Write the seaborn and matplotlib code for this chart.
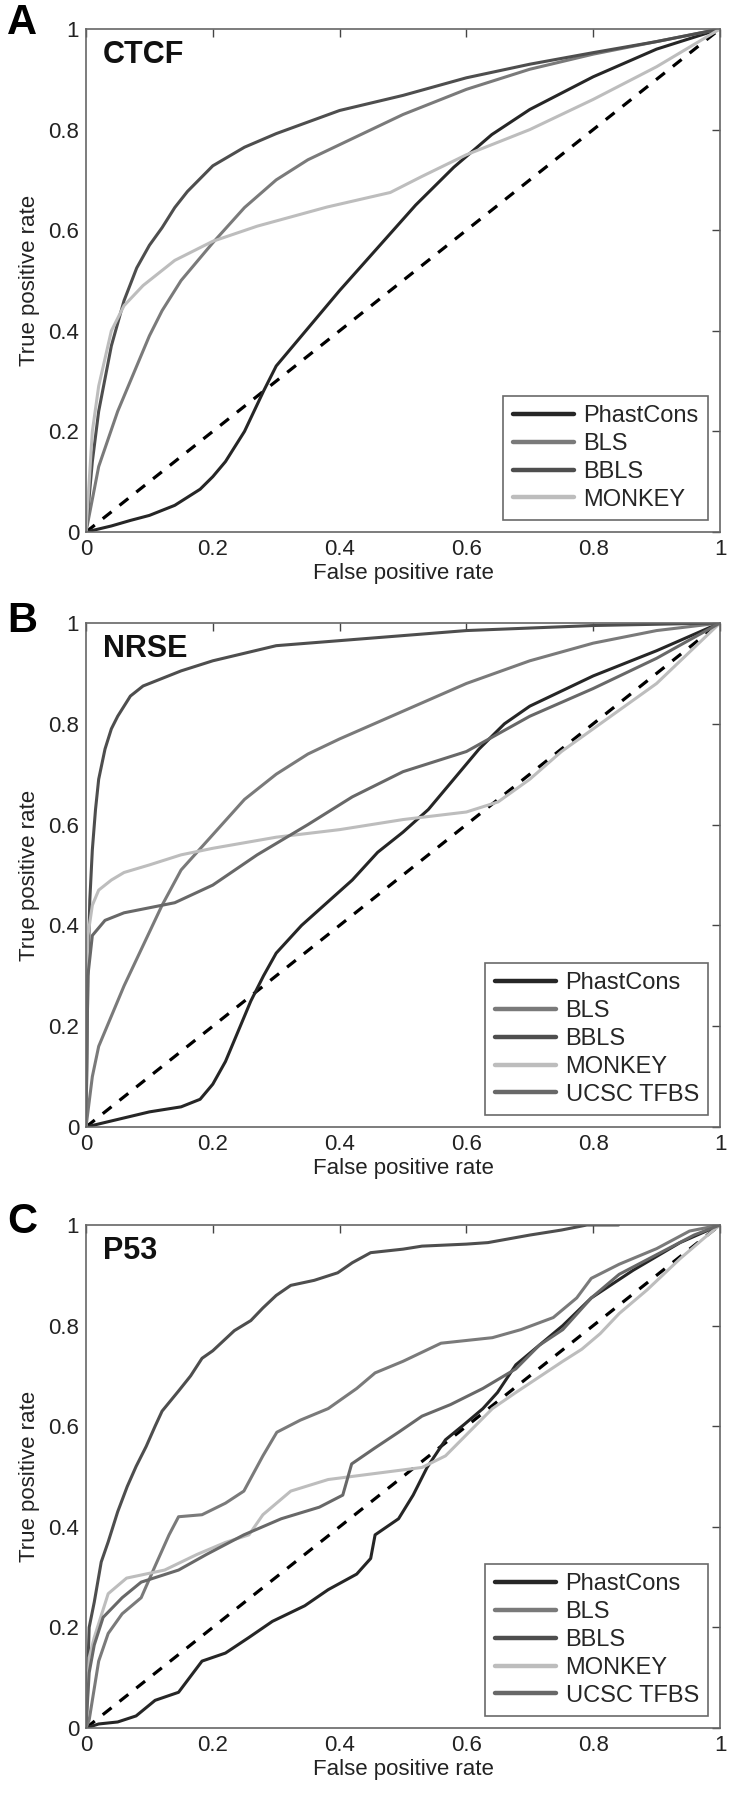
import numpy as np
import pandas as pd
import matplotlib
matplotlib.use("Agg")
import matplotlib.pyplot as plt
import seaborn as sns

sns.set_theme(style="white")
plt.rcParams['font.family'] = ['Liberation Sans', 'DejaVu Sans']

# ---------------- Data ----------------
# Panel A: CTCF
ctcf_phast_x = [0, 0.04, 0.07, 0.1, 0.14, 0.18, 0.2, 0.22, 0.25, 0.28, 0.3, 0.34, 0.4, 0.46, 0.52, 0.58, 0.64, 0.7, 0.8, 0.9, 1.0]
ctcf_phast_y = [0, 0.012, 0.023, 0.033, 0.053, 0.085, 0.11, 0.14, 0.2, 0.28, 0.33, 0.39, 0.48, 0.565, 0.65, 0.725, 0.79, 0.84, 0.905, 0.96, 1.0]
ctcf_bls_x = [0, 0.02, 0.05, 0.08, 0.1, 0.12, 0.15, 0.2, 0.25, 0.3, 0.35, 0.4, 0.5, 0.6, 0.7, 0.8, 0.9, 1.0]
ctcf_bls_y = [0, 0.13, 0.24, 0.33, 0.39, 0.44, 0.50, 0.575, 0.645, 0.70, 0.74, 0.77, 0.83, 0.88, 0.92, 0.95, 0.975, 1.0]
ctcf_bbls_x = [0, 0.01, 0.02, 0.04, 0.06, 0.08, 0.1, 0.12, 0.14, 0.16, 0.2, 0.25, 0.3, 0.35, 0.4, 0.5, 0.6, 0.7, 0.8, 0.9, 1.0]
ctcf_bbls_y = [0, 0.14, 0.24, 0.37, 0.46, 0.525, 0.57, 0.605, 0.645, 0.677, 0.728, 0.765, 0.792, 0.815, 0.838, 0.868, 0.903, 0.93, 0.953, 0.975, 1.0]
ctcf_monkey_x = [0, 0.01, 0.02, 0.04, 0.06, 0.09, 0.14, 0.2, 0.27, 0.38, 0.48, 0.53, 0.6, 0.7, 0.8, 0.9, 1.0]
ctcf_monkey_y = [0, 0.2, 0.29, 0.40, 0.45, 0.49, 0.54, 0.578, 0.608, 0.646, 0.675, 0.707, 0.75, 0.80, 0.86, 0.925, 1.0]

# Panel B: NRSE
nrse_phast_x = [0, 0.05, 0.1, 0.15, 0.18, 0.2, 0.22, 0.24, 0.26, 0.28, 0.3, 0.34, 0.38, 0.42, 0.46, 0.5, 0.54, 0.58, 0.62, 0.66, 0.7, 0.75, 0.8, 0.9, 1.0]
nrse_phast_y = [0, 0.015, 0.03, 0.04, 0.055, 0.085, 0.13, 0.19, 0.25, 0.30, 0.345, 0.40, 0.445, 0.49, 0.545, 0.585, 0.63, 0.69, 0.75, 0.80, 0.835, 0.865, 0.895, 0.945, 1.0]
nrse_bls_x = [0, 0.01, 0.02, 0.04, 0.06, 0.09, 0.12, 0.15, 0.2, 0.25, 0.3, 0.35, 0.4, 0.5, 0.6, 0.7, 0.8, 0.9, 1.0]
nrse_bls_y = [0, 0.10, 0.16, 0.22, 0.28, 0.36, 0.44, 0.51, 0.58, 0.65, 0.70, 0.74, 0.77, 0.825, 0.88, 0.925, 0.96, 0.985, 1.0]
nrse_bbls_x = [0, 0.003, 0.006, 0.01, 0.015, 0.02, 0.03, 0.04, 0.05, 0.07, 0.09, 0.12, 0.15, 0.2, 0.3, 0.4, 0.5, 0.6, 0.8, 1.0]
nrse_bbls_y = [0, 0.30, 0.45, 0.55, 0.63, 0.69, 0.75, 0.79, 0.815, 0.855, 0.875, 0.89, 0.905, 0.925, 0.955, 0.965, 0.975, 0.985, 0.995, 1.0]
nrse_monkey_x = [0, 0.003, 0.01, 0.02, 0.04, 0.06, 0.1, 0.15, 0.2, 0.3, 0.4, 0.5, 0.6, 0.65, 0.7, 0.75, 0.8, 0.9, 1.0]
nrse_monkey_y = [0, 0.38, 0.44, 0.47, 0.49, 0.505, 0.52, 0.54, 0.553, 0.575, 0.59, 0.61, 0.625, 0.645, 0.69, 0.745, 0.79, 0.88, 1.0]
nrse_ucsc_x = [0, 0.003, 0.01, 0.03, 0.06, 0.1, 0.14, 0.2, 0.27, 0.35, 0.42, 0.5, 0.55, 0.6, 0.65, 0.7, 0.8, 0.9, 1.0]
nrse_ucsc_y = [0, 0.30, 0.38, 0.41, 0.425, 0.435, 0.445, 0.48, 0.54, 0.60, 0.655, 0.705, 0.725, 0.745, 0.78, 0.815, 0.87, 0.93, 1.0]

# Panel C: P53
p53_phast_x = [0, 0.02, 0.05, 0.079, 0.109, 0.146, 0.183, 0.22, 0.257, 0.294, 0.345, 0.382, 0.427, 0.449, 0.456, 0.493, 0.516, 0.538, 0.567, 0.597, 0.626, 0.649, 0.678, 0.715, 0.752, 0.797, 0.863, 0.937, 1.0]
p53_phast_y = [0, 0.008, 0.012, 0.024, 0.055, 0.071, 0.133, 0.149, 0.18, 0.212, 0.243, 0.275, 0.306, 0.337, 0.384, 0.416, 0.463, 0.518, 0.573, 0.604, 0.635, 0.667, 0.722, 0.761, 0.80, 0.855, 0.91, 0.965, 1.0]
p53_bls_x = [0, 0.005, 0.02, 0.035, 0.057, 0.087, 0.109, 0.131, 0.146, 0.183, 0.22, 0.249, 0.279, 0.301, 0.338, 0.382, 0.427, 0.456, 0.5, 0.56, 0.641, 0.686, 0.737, 0.774, 0.797, 0.841, 0.9, 0.952, 1.0]
p53_bls_y = [0, 0.016, 0.133, 0.188, 0.227, 0.259, 0.322, 0.384, 0.42, 0.424, 0.447, 0.471, 0.541, 0.588, 0.612, 0.635, 0.675, 0.706, 0.729, 0.765, 0.776, 0.792, 0.816, 0.855, 0.894, 0.922, 0.953, 0.988, 1.0]
p53_bbls_x = [0, 0.005, 0.013, 0.024, 0.035, 0.05, 0.065, 0.079, 0.095, 0.109, 0.12, 0.146, 0.165, 0.183, 0.2, 0.234, 0.26, 0.279, 0.3, 0.323, 0.36, 0.397, 0.42, 0.449, 0.5, 0.53, 0.6, 0.634, 0.7, 0.75, 0.79, 0.84]
p53_bbls_y = [0, 0.20, 0.25, 0.33, 0.37, 0.43, 0.48, 0.52, 0.56, 0.60, 0.63, 0.67, 0.70, 0.735, 0.75, 0.79, 0.81, 0.835, 0.86, 0.88, 0.89, 0.905, 0.925, 0.945, 0.952, 0.958, 0.962, 0.965, 0.98, 0.99, 1.0, 1.0]
p53_monkey_x = [0, 0.005, 0.013, 0.035, 0.064, 0.124, 0.175, 0.22, 0.257, 0.279, 0.323, 0.382, 0.456, 0.53, 0.567, 0.604, 0.641, 0.678, 0.715, 0.752, 0.782, 0.811, 0.841, 0.885, 0.937, 0.974, 1.0]
p53_monkey_y = [0, 0.14, 0.18, 0.267, 0.298, 0.314, 0.345, 0.369, 0.384, 0.424, 0.471, 0.494, 0.506, 0.518, 0.541, 0.588, 0.635, 0.667, 0.698, 0.729, 0.753, 0.784, 0.824, 0.871, 0.933, 0.973, 1.0]
p53_ucsc_x = [0, 0.005, 0.013, 0.027, 0.057, 0.087, 0.146, 0.19, 0.249, 0.308, 0.368, 0.405, 0.419, 0.456, 0.493, 0.53, 0.575, 0.626, 0.678, 0.715, 0.752, 0.797, 0.841, 0.9, 0.959, 1.0]
p53_ucsc_y = [0, 0.11, 0.165, 0.22, 0.259, 0.29, 0.314, 0.345, 0.384, 0.416, 0.439, 0.463, 0.525, 0.557, 0.588, 0.62, 0.643, 0.675, 0.714, 0.761, 0.792, 0.855, 0.902, 0.941, 0.98, 1.0]

methods4 = ["PhastCons", "BLS", "BBLS", "MONKEY"]
methods5 = ["PhastCons", "BLS", "BBLS", "MONKEY", "UCSC TFBS"]
panel_titles = ["CTCF", "NRSE", "P53"]
panel_letters = ["A", "B", "C"]
tick_values = [0, 0.2, 0.4, 0.6, 0.8, 1]
tick_labels = ["0", "0.2", "0.4", "0.6", "0.8", "1"]

colors = {"PhastCons": "#262626", "BLS": "#7a7a7a", "BBLS": "#4e4e4e",
          "MONKEY": "#bdbdbd", "UCSC TFBS": "#686868"}

panels = [
    {"PhastCons": (ctcf_phast_x, ctcf_phast_y), "BLS": (ctcf_bls_x, ctcf_bls_y),
     "BBLS": (ctcf_bbls_x, ctcf_bbls_y), "MONKEY": (ctcf_monkey_x, ctcf_monkey_y)},
    {"PhastCons": (nrse_phast_x, nrse_phast_y), "BLS": (nrse_bls_x, nrse_bls_y),
     "BBLS": (nrse_bbls_x, nrse_bbls_y), "MONKEY": (nrse_monkey_x, nrse_monkey_y),
     "UCSC TFBS": (nrse_ucsc_x, nrse_ucsc_y)},
    {"PhastCons": (p53_phast_x, p53_phast_y), "BLS": (p53_bls_x, p53_bls_y),
     "BBLS": (p53_bbls_x, p53_bbls_y), "MONKEY": (p53_monkey_x, p53_monkey_y),
     "UCSC TFBS": (p53_ucsc_x, p53_ucsc_y)},
]
method_lists = [methods4, methods5, methods5]

# ---------------- Layout ----------------
W, H = 735, 1800
fig = plt.figure(figsize=(W / 100, H / 100), dpi=100)
axes_px = [(86, 29, 634, 503), (86, 623, 634, 504), (86, 1225, 634, 503)]  # left, top, w, h
letter_y = [23, 621, 1222]

for i, (panel, methods) in enumerate(zip(panels, method_lists)):
    l, t, w, h = axes_px[i]
    ax = fig.add_axes([l / W, 1 - (t + h) / H, w / W, h / H])
    # diagonal chance line
    sns.lineplot(x=[0, 1], y=[0, 1], ax=ax, color="black", lw=2.3,
                 linestyle=(0, (3.5, 3.2)), estimator=None, sort=False, legend=False)
    for m in methods:
        xs, ys = panel[m]
        df = pd.DataFrame({"x": xs, "y": ys})
        sns.lineplot(data=df, x="x", y="y", ax=ax, color=colors[m], lw=2.2,
                     estimator=None, sort=False, label=m)
    ax.set_xlim(0, 1)
    ax.set_ylim(0, 1)
    ax.set_xticks(tick_values)
    ax.set_yticks(tick_values)
    ax.set_xticklabels(tick_labels)
    ax.set_yticklabels(tick_labels)
    ax.tick_params(axis="both", direction="in", length=6, width=1, colors="#444444",
                   labelsize=16, labelcolor="#222222", top=True, right=True, pad=5)
    for s in ax.spines.values():
        s.set_color("#666666")
        s.set_linewidth(1.2)
    ax.set_xlabel("False positive rate", fontsize=16, color="#222222", labelpad=2)
    ax.set_ylabel("True positive rate", fontsize=16, color="#222222", labelpad=6)
    ax.text(0.027, 0.948, panel_titles[i], transform=ax.transAxes, fontsize=22,
            fontweight="bold", va="center", ha="left", color="#111111")
    leg = ax.legend(loc="lower right", fontsize=17, frameon=True, fancybox=False,
                    borderaxespad=0.5, handlelength=2.6, handletextpad=0.4,
                    labelspacing=0.25, borderpad=0.4)
    leg.get_frame().set_edgecolor("#444444")
    leg.get_frame().set_linewidth(1.2)
    for lh in leg.get_lines():
        lh.set_linewidth(3.2)
    fig.text(22 / W, 1 - letter_y[i] / H, panel_letters[i], fontsize=30,
             fontweight="bold", ha="center", va="center", color="black")

fig.savefig("out.png", dpi=100, facecolor="white")
